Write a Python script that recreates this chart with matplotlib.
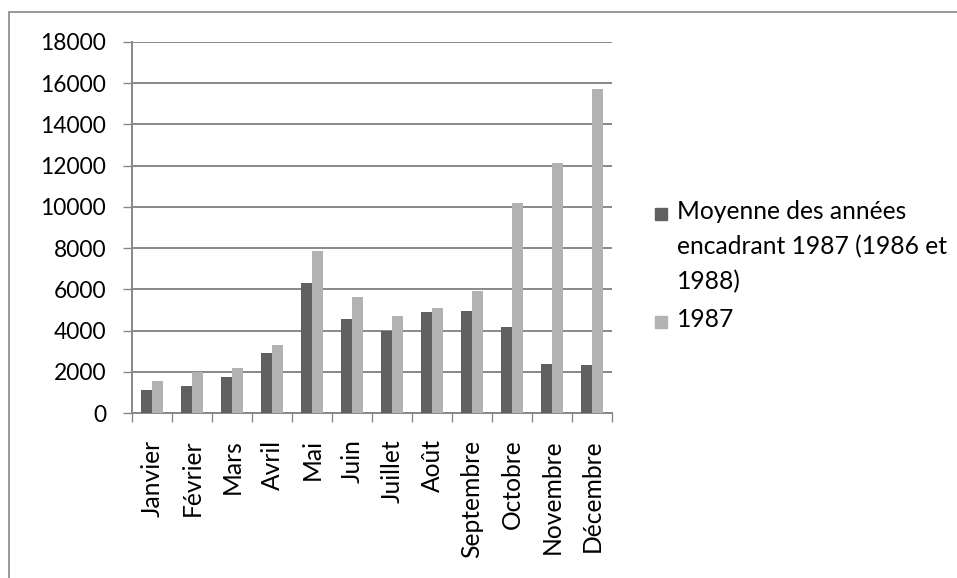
import numpy as np
import matplotlib
matplotlib.use("Agg")
import matplotlib.pyplot as plt
from matplotlib.patches import Rectangle

mois = ["Janvier", "Février", "Mars", "Avril", "Mai", "Juin", "Juillet",
        "Août", "Septembre", "Octobre", "Novembre", "Décembre"]
moyenne_86_88 = [1130, 1330, 1730, 2910, 6320, 4540, 3990, 4880, 4930, 4150, 2390, 2310]
annee_1987 = [1550, 2000, 2200, 3300, 7850, 5620, 4720, 5100, 5910, 10180, 12120, 15740]
y_ticks = list(range(0, 18001, 2000))

label_moy = "Moyenne des années\nencadrant 1987 (1986 et\n1988)"
label_1987 = "1987"

couleur_moy = "#606060"
couleur_1987 = "#b2b2b2"
gris = "#888888"

plt.rcParams["font.family"] = ["Lato", "DejaVu Sans"]
fs_chiffres = 16.4
fs_texte = 17.7

fig = plt.figure(figsize=(9.57, 5.78), dpi=100)
ax = fig.add_axes([132 / 957, 1 - 413 / 578, 480 / 957, 371 / 578])

x = np.arange(len(mois))
w = 0.275
ax.bar(x - w / 2, moyenne_86_88, width=w, color=couleur_moy, zorder=3)
ax.bar(x + w / 2, annee_1987, width=w, color=couleur_1987, zorder=3)

ax.set_xlim(-0.5, len(mois) - 0.5)
ax.set_ylim(0, 18000)
ax.set_yticks(y_ticks)
ax.set_yticklabels([str(v) for v in y_ticks], fontsize=fs_chiffres)
ax.yaxis.grid(True, color=gris, linewidth=1.4, zorder=0)
ax.tick_params(axis="y", length=6.5, width=1, color=gris, pad=12)

ax.set_xticks(x)
ax.set_xticklabels(mois, rotation=90, fontsize=fs_texte)
ax.set_xticks(np.arange(len(mois) + 1) - 0.5, minor=True)
ax.tick_params(axis="x", which="major", length=0, pad=19)
ax.tick_params(axis="x", which="minor", length=6.5, width=1, color=gris)

for side in ["top", "right"]:
    ax.spines[side].set_visible(False)
for side in ["left", "bottom"]:
    ax.spines[side].set_color(gris)
    ax.spines[side].set_linewidth(1.4)

# légende dessinée à la main (carré aligné sur la première ligne)
def px(xp, yp):
    return xp / 957, 1 - yp / 578

sq = 12
for (xp, yp), col, txt in [((655, 208), couleur_moy, label_moy),
                           ((655, 316), couleur_1987, label_1987)]:
    x0, y0 = px(xp, yp + sq)
    fig.add_artist(Rectangle((x0, y0), sq / 957, sq / 578, transform=fig.transFigure,
                             color=col))
    tx, ty = px(677, yp - 8)
    fig.text(tx, ty, txt, fontsize=fs_texte, va="top", ha="left", linespacing=1.62)

# cadre du graphique
fx, fy = px(9, 12)
fig.add_artist(Rectangle((fx, -0.2), 2, fy + 0.2, transform=fig.transFigure,
                         fill=False, edgecolor=gris, linewidth=1.2))

fig.savefig("out.png", dpi=100)
